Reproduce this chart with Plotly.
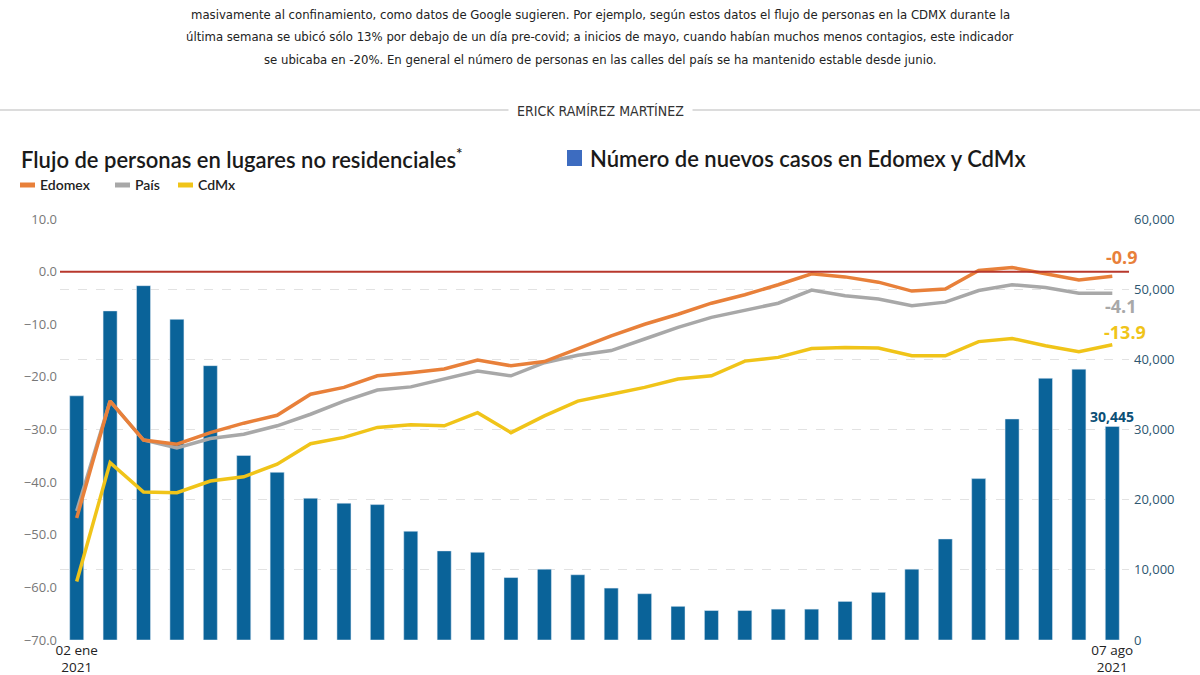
import plotly.graph_objects as go
import pandas as pd

# ---------------- data ----------------
weeks = [d.strftime("%Y-%m-%d") for d in pd.date_range("2021-01-02", periods=32, freq="7D")]
tick_labels = ["02 ene<br>2021", "07 ago<br>2021"]

casos = [34800, 46900, 50500, 45700, 39100, 26300, 23900, 20200, 19500, 19300,
         15500, 12700, 12500, 8900, 10100, 9300, 7400, 6600, 4800, 4200,
         4200, 4400, 4400, 5500, 6800, 10100, 14400, 23000, 31500, 37300,
         38600, 30445]
edomex = [-46.8, -24.6, -32.0, -32.8, -30.6, -28.8, -27.3, -23.3, -22.0, -19.8,
          -19.2, -18.5, -16.8, -17.9, -17.1, -14.7, -12.2, -10.0, -8.1, -6.0,
          -4.4, -2.5, -0.4, -1.0, -2.0, -3.7, -3.3, 0.2, 0.8, -0.4,
          -1.6, -0.9]
pais = [-45.5, -24.6, -32.0, -33.5, -31.7, -30.9, -29.3, -27.1, -24.6, -22.5,
        -21.9, -20.4, -18.9, -19.8, -17.3, -15.9, -15.0, -12.8, -10.6, -8.7,
        -7.4, -6.0, -3.5, -4.6, -5.2, -6.5, -5.8, -3.6, -2.5, -3.0,
        -4.1, -4.1]
cdmx = [-58.9, -36.3, -41.9, -42.0, -39.8, -39.0, -36.6, -32.7, -31.5, -29.6,
        -29.1, -29.3, -26.8, -30.6, -27.4, -24.6, -23.3, -22.0, -20.4, -19.8,
        -17.0, -16.3, -14.6, -14.4, -14.5, -16.0, -16.0, -13.3, -12.7, -14.1,
        -15.2, -13.9]

header_lines = [
    "masivamente al confinamiento, como datos de Google sugieren. Por ejemplo, según estos datos el flujo de personas en la CDMX durante la",
    "última semana se ubicó sólo 13% por debajo de un día pre-covid; a inicios de mayo, cuando habían muchos menos contagios, este indicador",
    "se ubicaba en -20%. En general el número de personas en las calles del país se ha mantenido estable desde junio.",
]
author = "ERICK RAMÍREZ MARTÍNEZ"

# ---------------- styles ----------------
C_BAR = "#0a6399"
C_ORANGE = "#e8803a"
C_GREY = "#a8a8a8"
C_YELLOW = "#f0c419"
C_RED = "#b8382c"
FONT = "Open Sans"
NARROW = "DejaVu Sans Condensed"

W, H = 1200, 675
ML, MR, MT, MB = 60, 71, 219, 35
PW, PH = W - ML - MR, H - MT - MB


def px(x):
    return (x - ML) / PW


def py(y):
    return (H - MB - y) / PH


fig = go.Figure()
fig.add_trace(go.Bar(x=weeks, y=casos, marker_color=C_BAR, width=0.42,
                     yaxis="y", showlegend=False))
for vals, col in [(cdmx, C_YELLOW), (pais, C_GREY), (edomex, C_ORANGE)]:
    fig.add_trace(go.Scatter(x=weeks, y=vals, mode="lines", yaxis="y2",
                             line=dict(color=col, width=3.5), showlegend=False))

annotations = []
# end labels
annotations.append(dict(x=weeks[-1], y=edomex[-1], xref="x", yref="y2", text="<b>%.1f</b>" % edomex[-1],
                        showarrow=False, xshift=10, yshift=19, font=dict(size=18, color=C_ORANGE, family=FONT)))
annotations.append(dict(x=weeks[-1], y=pais[-1], xref="x", yref="y2", text="<b>%.1f</b>" % pais[-1],
                        showarrow=False, xshift=9, yshift=-13, font=dict(size=18, color=C_GREY, family=FONT)))
annotations.append(dict(x=weeks[-1], y=cdmx[-1], xref="x", yref="y2", text="<b>%.1f</b>" % cdmx[-1],
                        showarrow=False, xshift=13, yshift=13, font=dict(size=18, color=C_YELLOW, family=FONT)))
annotations.append(dict(x=weeks[-1], y=casos[-1], xref="x", yref="y", text="<b>{:,}</b>".format(casos[-1]),
                        showarrow=False, xshift=0, yshift=10, font=dict(size=14, color="#0b4f75", family=FONT)))

# header text
for i, line in enumerate(header_lines):
    annotations.append(dict(x=px(600), y=py(15 + 22 * i), xref="paper", yref="paper", text=line,
                            showarrow=False, xanchor="center", yanchor="middle",
                            font=dict(size=13, color="#222", family=NARROW)))
annotations.append(dict(x=px(600), y=py(111), xref="paper", yref="paper", text=author,
                        showarrow=False, xanchor="center", yanchor="middle", bgcolor="white",
                        borderpad=8, font=dict(size=14, color="#333", family=NARROW)))

# titles
annotations.append(dict(x=px(19), y=py(158), xref="paper", yref="paper",
                        text="Flujo de personas en lugares no residenciales<sup>*</sup>",
                        showarrow=False, xanchor="left", yanchor="middle",
                        font=dict(size=22, color="#1a1a1a", family="Lato", weight=600)))
annotations.append(dict(x=px(588), y=py(158), xref="paper", yref="paper",
                        text="Número de nuevos casos en Edomex y CdMx",
                        showarrow=False, xanchor="left", yanchor="middle",
                        font=dict(size=22, color="#1a1a1a", family="Lato", weight=600)))
# legend
for x0, name, col in [(20, "Edomex", C_ORANGE), (115, "País", C_GREY), (178, "CdMx", C_YELLOW)]:
    annotations.append(dict(x=px(x0 + 18), y=py(185), xref="paper", yref="paper", text=name,
                            showarrow=False, xanchor="left", yanchor="middle",
                            font=dict(size=14, color="#222", family="Lato", weight=600)))

shapes = [
    dict(type="line", xref="x", yref="y2", x0=-0.5, x1=31.5, y0=0, y1=0,
         line=dict(color=C_RED, width=2), layer="above"),
    dict(type="line", xref="paper", yref="paper", x0=px(0), x1=px(1200), y0=py(110), y1=py(110),
         line=dict(color="#dcdcdc", width=2), layer="below"),
    dict(type="rect", xref="paper", yref="paper", x0=px(567), x1=px(582), y0=py(166), y1=py(150),
         fillcolor="#3d6cc0", line=dict(width=0)),
]
for x0, col in [(20, C_ORANGE), (115, C_GREY), (178, C_YELLOW)]:
    shapes.append(dict(type="line", xref="paper", yref="paper", x0=px(x0), x1=px(x0 + 15),
                       y0=py(185), y1=py(185), line=dict(color=col, width=5)))

fig.update_layout(
    width=W, height=H,
    margin=dict(l=ML, r=MR, t=MT, b=MB, autoexpand=False),
    paper_bgcolor="white", plot_bgcolor="white",
    font=dict(family=FONT),
    bargap=0.5,
    xaxis=dict(type="category", range=[-0.5, 31.5], tickvals=[weeks[0], weeks[-1]], ticktext=tick_labels,
               showgrid=False, zeroline=False, showline=False, ticks="", ticklabelstandoff=0,
               automargin=False, tickfont=dict(size=13.5, color="#222", family=FONT)),
    yaxis=dict(side="right", range=[0, 60000], tickvals=[0, 10000, 20000, 30000, 40000, 50000, 60000],
               tickformat=",", showgrid=True, gridcolor="#e2e2e2", griddash="dash", zeroline=False,
               automargin=False,
               tickfont=dict(size=13, color="#2d5670", family=FONT), ticks="", ticklabelstandoff=4),
    yaxis2=dict(side="left", overlaying="y", range=[-70, 10], tickvals=list(range(-70, 11, 10)),
                tickformat=".1f", showgrid=False, zeroline=False, automargin=False,
                tickfont=dict(size=13, color="#777", family=FONT), ticks="", ticklabelstandoff=2),
    annotations=annotations,
    shapes=shapes,
)

fig.write_html("out.html")
